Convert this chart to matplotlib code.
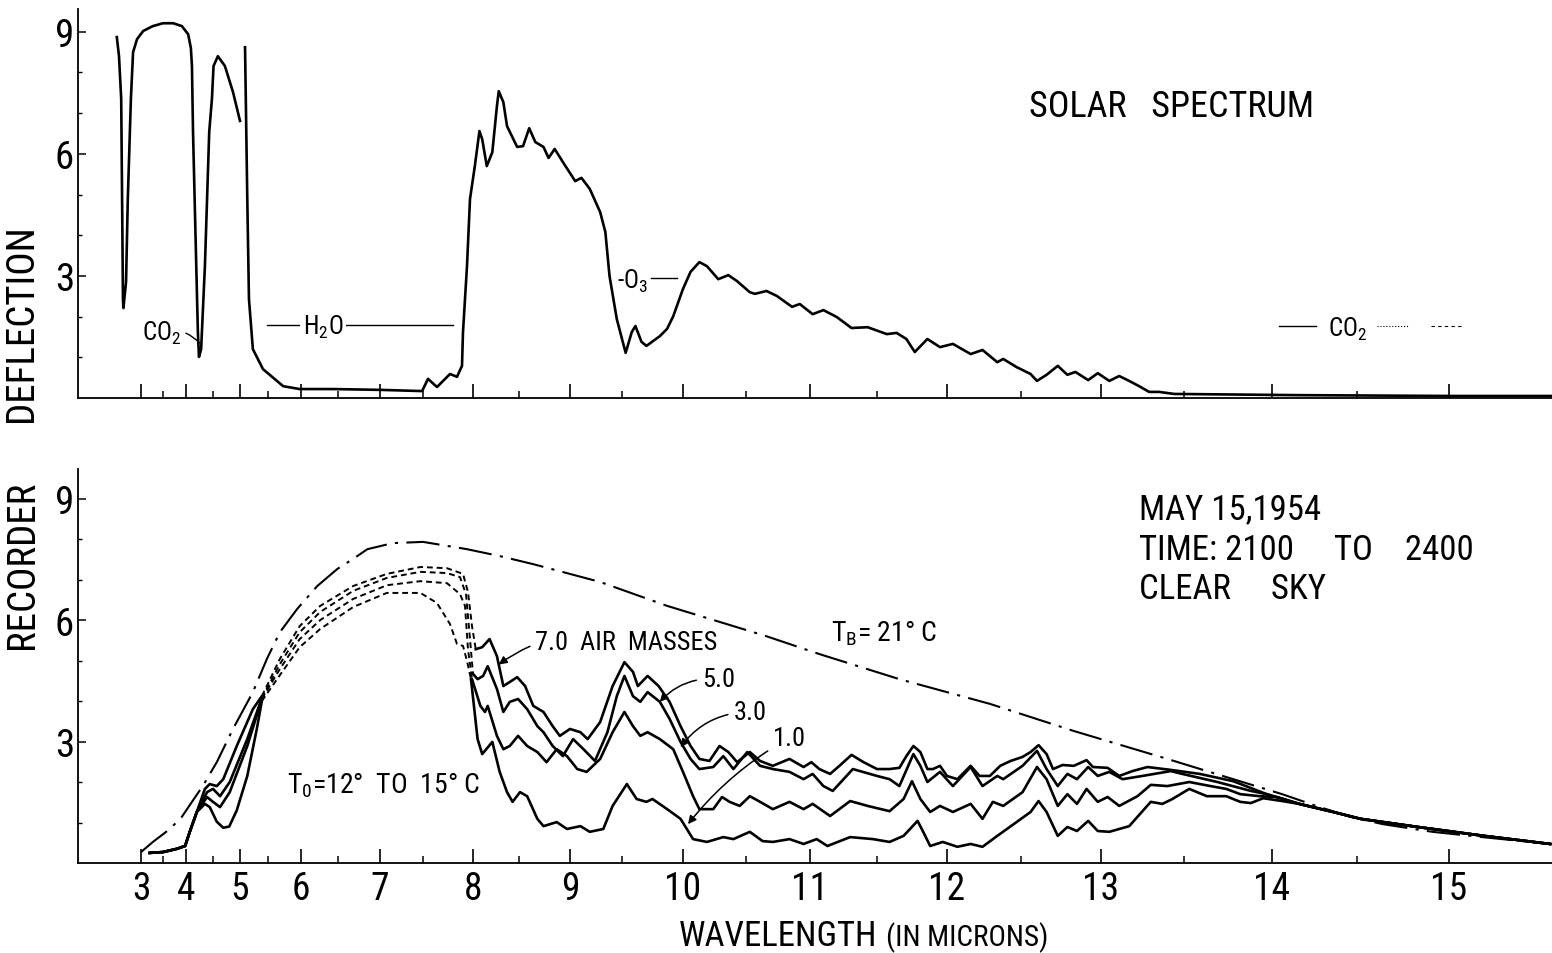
import numpy as np
import matplotlib as mpl
mpl.use('Agg')
from matplotlib import pyplot as plt
from matplotlib import font_manager


def pick_family(*names):
    for name in names:
        try:
            font_manager.findfont(font_manager.FontProperties(family=name),
                                  fallback_to_default=False)
            return name
        except ValueError:
            pass
    return 'DejaVu Sans'


LETTERING = pick_family('Roboto Condensed', 'Liberation Sans Narrow',
                        'DejaVu Sans Condensed', 'Roboto')
plt.rcParams['font.family'] = [LETTERING, 'DejaVu Sans']
plt.rcParams['mathtext.fontset'] = 'custom'
plt.rcParams['mathtext.rm'] = LETTERING
plt.rcParams['mathtext.it'] = LETTERING

# wavelength marks and their place along the recorder chart (prism dispersion)
prism_um = [0.0, 3.0, 3.5, 4.0, 4.5, 5.0, 5.5, 6.0, 6.5, 7.0, 7.5, 8.0, 8.5, 9.0,
            9.5, 10.0, 10.5, 11.0, 11.5, 12.0, 12.5, 13.0, 13.5, 14.0, 14.5, 15.0, 20.0]
prism_pos = [9, 141, 163, 186, 213, 240, 268, 301, 338, 380, 423, 473, 519, 570,
             622, 683, 746, 810, 877, 947, 1021, 1101, 1184, 1272, 1357, 1449, 2369]

# solar spectrum (micron, deflection), two traces
solar_a = np.array([
    (2.45, 8.87), (2.50, 8.40), (2.55, 7.35), (2.59, 2.43), (2.60, 2.21), (2.66, 2.85),
    (2.70, 4.89), (2.77, 7.35), (2.82, 8.50), (2.91, 8.82), (3.05, 9.02), (3.27, 9.14),
    (3.50, 9.21), (3.72, 9.21), (3.91, 9.14), (4.04, 8.94), (4.09, 8.60), (4.11, 8.16),
    (4.13, 6.54), (4.19, 3.24), (4.22, 1.62), (4.24, 1.01), (4.28, 1.20), (4.35, 3.24),
    (4.43, 6.54), (4.48, 7.35), (4.51, 8.16), (4.59, 8.40), (4.72, 8.16), (4.87, 7.52),
    (5.00, 6.81)])
solar_b = np.array([
    (5.09, 8.62), (5.13, 4.89), (5.16, 2.43), (5.23, 1.20), (5.41, 0.71), (5.73, 0.29),
    (5.98, 0.22), (6.43, 0.22), (7.00, 0.20), (7.49, 0.17), (7.55, 0.47), (7.64, 0.27),
    (7.77, 0.59), (7.84, 0.52), (7.89, 0.79), (7.90, 1.62), (7.94, 3.24), (7.97, 4.89),
    (8.02, 5.70), (8.07, 6.56), (8.10, 6.36), (8.15, 5.70), (8.21, 6.04), (8.26, 7.17),
    (8.28, 7.54), (8.33, 7.27), (8.37, 6.68), (8.48, 6.17), (8.54, 6.19), (8.60, 6.63),
    (8.66, 6.29), (8.74, 6.17), (8.79, 5.90), (8.85, 6.12), (8.93, 5.80), (9.05, 5.33),
    (9.11, 5.41), (9.19, 5.14), (9.29, 4.57), (9.34, 4.08), (9.38, 3.00), (9.45, 1.94),
    (9.53, 1.11), (9.58, 1.62), (9.61, 1.77), (9.66, 1.38), (9.70, 1.28), (9.81, 1.52),
    (9.87, 1.70), (9.92, 2.01), (10.00, 2.68), (10.06, 3.10), (10.13, 3.34), (10.19, 3.24),
    (10.28, 2.92), (10.36, 3.02), (10.43, 2.87), (10.53, 2.60), (10.57, 2.56), (10.66, 2.63),
    (10.74, 2.51), (10.86, 2.24), (10.92, 2.31), (11.02, 2.06), (11.10, 2.16), (11.20, 1.99),
    (11.31, 1.72), (11.43, 1.74), (11.57, 1.57), (11.64, 1.60), (11.71, 1.45), (11.77, 1.13),
    (11.86, 1.45), (11.95, 1.25), (12.04, 1.33), (12.16, 1.08), (12.24, 1.18), (12.34, 0.88),
    (12.38, 0.96), (12.47, 0.76), (12.56, 0.59), (12.60, 0.42), (12.66, 0.57), (12.73, 0.79),
    (12.79, 0.57), (12.84, 0.64), (12.92, 0.44), (12.98, 0.61), (13.05, 0.42), (13.11, 0.54),
    (13.17, 0.42), (13.23, 0.29), (13.29, 0.15), (13.35, 0.15), (13.44, 0.10), (14.16, 0.07),
    (15.01, 0.05), (15.56, 0.05)])

# blackbody reference, T_B = 21 C
blackbody = np.array([
    (3.00, 0.27), (3.27, 0.52), (3.65, 0.84), (3.91, 1.14), (4.11, 1.51), (4.31, 1.90),
    (4.57, 2.49), (4.87, 3.31), (5.23, 4.22), (5.48, 5.04), (5.68, 5.70), (5.94, 6.27),
    (6.22, 6.84), (6.49, 7.26), (6.68, 7.51), (6.85, 7.75), (7.15, 7.90), (7.50, 7.93),
    (7.94, 7.75), (8.29, 7.58), (8.64, 7.38), (9.29, 6.94), (9.87, 6.35), (10.40, 5.85),
    (10.66, 5.60), (11.07, 5.16), (11.66, 4.54), (12.29, 3.93), (12.83, 3.26), (13.40, 2.57),
    (13.78, 2.07), (14.06, 1.70), (14.26, 1.41), (14.46, 1.14), (14.64, 0.96), (14.91, 0.77),
    (15.18, 0.64), (15.55, 0.47)])

# sky spectra for 7.0, 5.0, 3.0, 1.0 air masses
rise_common = np.array([(3.20, 0.25), (3.50, 0.27), (3.80, 0.35), (3.98, 0.42),
                        (4.07, 0.77), (4.20, 1.26)])
tail_common = np.array([(14.16, 1.46), (14.36, 1.26), (14.52, 1.09), (14.83, 0.89),
                        (15.19, 0.67), (15.55, 0.47)])

am70_lo = np.array([(4.35, 1.83), (4.44, 1.95), (4.57, 1.90), (4.69, 2.07), (4.94, 2.89),
                    (5.23, 3.80), (5.39, 4.12)])
am50_lo = np.array([(4.39, 1.75), (4.50, 1.83), (4.63, 1.65), (4.81, 2.00), (5.13, 3.06),
                    (5.39, 4.07)])
am30_lo = np.array([(4.39, 1.63), (4.48, 1.53), (4.63, 1.38), (4.81, 1.75), (5.13, 2.89),
                    (5.39, 4.05)])
am10_lo = np.array([(4.35, 1.46), (4.44, 1.38), (4.57, 1.02), (4.69, 0.87), (4.80, 0.90),
                    (4.94, 1.30), (5.13, 2.15), (5.30, 3.31), (5.39, 4.00)])

am70_dash = np.array([(5.39, 4.12), (5.68, 5.04), (5.98, 5.85), (6.26, 6.35), (6.68, 6.84),
                      (7.08, 7.14), (7.47, 7.31), (7.74, 7.28), (7.90, 7.14), (7.95, 6.69),
                      (7.99, 5.85), (8.03, 5.28)])
am50_dash = np.array([(5.39, 4.07), (5.68, 4.91), (5.98, 5.70), (6.26, 6.20), (6.68, 6.72),
                      (7.08, 7.04), (7.47, 7.19), (7.74, 7.16), (7.87, 7.06), (7.93, 6.64),
                      (7.97, 5.53), (8.00, 4.67)])
am30_dash = np.array([(5.39, 4.05), (5.68, 4.79), (5.98, 5.53), (6.26, 6.00), (6.68, 6.52),
                      (7.08, 6.86), (7.47, 6.96), (7.74, 6.91), (7.87, 6.64), (7.92, 6.35),
                      (7.95, 5.28), (7.99, 4.54)])
am10_dash = np.array([(5.39, 4.00), (5.68, 4.64), (5.98, 5.33), (6.26, 5.78), (6.68, 6.32),
                      (7.08, 6.67), (7.47, 6.67), (7.64, 6.42), (7.77, 5.90), (7.84, 5.41),
                      (7.90, 5.36), (7.94, 4.99), (7.98, 4.54)])

am70_hi = np.array([
    (8.03, 5.28), (8.10, 5.33), (8.18, 5.53), (8.26, 5.11), (8.33, 4.37), (8.40, 4.47),
    (8.48, 4.59), (8.56, 4.37), (8.64, 3.88), (8.74, 3.73), (8.83, 3.38), (8.90, 3.14),
    (9.00, 3.31), (9.10, 3.23), (9.17, 3.06), (9.29, 3.48), (9.41, 4.37), (9.52, 4.96),
    (9.59, 4.72), (9.63, 4.37), (9.71, 4.62), (9.80, 4.37), (9.89, 3.98), (9.98, 3.38),
    (10.06, 2.89), (10.13, 2.57), (10.21, 2.52), (10.29, 2.89), (10.36, 2.74), (10.43, 2.49),
    (10.53, 2.74), (10.61, 2.52), (10.71, 2.40), (10.84, 2.57), (10.95, 2.37), (11.01, 2.49),
    (11.07, 2.32), (11.15, 2.20), (11.22, 2.40), (11.31, 2.67), (11.40, 2.49), (11.50, 2.32),
    (11.59, 2.32), (11.66, 2.35), (11.71, 2.64), (11.76, 2.89), (11.81, 2.74), (11.86, 2.32),
    (11.90, 2.32), (11.95, 2.40), (12.00, 2.15), (12.07, 2.07), (12.16, 2.40), (12.22, 2.15),
    (12.29, 2.15), (12.36, 2.40), (12.43, 2.52), (12.51, 2.62), (12.56, 2.74), (12.61, 2.91),
    (12.66, 2.69), (12.70, 2.32), (12.76, 2.42), (12.83, 2.40), (12.91, 2.54), (12.95, 2.37),
    (13.04, 2.35), (13.11, 2.15), (13.19, 2.27), (13.28, 2.37), (13.42, 2.30), (13.59, 2.20),
    (13.78, 2.02), (13.97, 1.70)])
am50_hi = np.array([
    (8.00, 4.67), (8.05, 4.54), (8.11, 4.62), (8.16, 4.86), (8.26, 4.30), (8.33, 3.73),
    (8.40, 3.98), (8.49, 4.05), (8.58, 3.80), (8.68, 3.38), (8.74, 3.23), (8.83, 2.89),
    (8.93, 2.64), (9.03, 3.06), (9.13, 2.81), (9.24, 2.52), (9.36, 3.23), (9.45, 4.12),
    (9.52, 4.62), (9.59, 4.12), (9.65, 3.98), (9.71, 4.22), (9.81, 3.98), (9.89, 3.56),
    (9.98, 2.99), (10.06, 2.57), (10.13, 2.32), (10.24, 2.37), (10.32, 2.64), (10.40, 2.32),
    (10.51, 2.74), (10.61, 2.40), (10.71, 2.32), (10.84, 2.25), (10.95, 2.07), (11.02, 2.20),
    (11.10, 1.90), (11.17, 1.78), (11.32, 2.32), (11.50, 2.15), (11.59, 2.07), (11.66, 1.90),
    (11.76, 2.69), (11.81, 2.40), (11.86, 2.00), (11.95, 2.25), (12.04, 1.90), (12.16, 2.37),
    (12.24, 1.90), (12.34, 2.15), (12.38, 2.07), (12.51, 2.40), (12.60, 2.77), (12.66, 2.32),
    (12.73, 1.90), (12.79, 2.20), (12.85, 2.07), (12.92, 2.37), (12.98, 2.15), (13.05, 2.25),
    (13.13, 2.07), (13.25, 2.15), (13.42, 2.27), (13.49, 2.20), (13.69, 2.00), (13.88, 1.78),
    (13.97, 1.70)])
am30_hi = np.array([
    (7.99, 4.54), (8.08, 3.88), (8.13, 3.73), (8.16, 3.88), (8.26, 3.14), (8.33, 2.81),
    (8.40, 2.89), (8.49, 3.14), (8.58, 2.89), (8.68, 2.74), (8.77, 2.49), (8.87, 2.81),
    (8.97, 2.64), (9.07, 2.32), (9.16, 2.25), (9.29, 2.57), (9.41, 3.23), (9.52, 3.73),
    (9.59, 3.38), (9.65, 3.14), (9.71, 3.23), (9.81, 3.06), (9.92, 2.81), (10.00, 2.25),
    (10.08, 1.65), (10.13, 1.33), (10.24, 1.33), (10.31, 1.63), (10.37, 1.51), (10.45, 1.41),
    (10.53, 1.65), (10.61, 1.51), (10.71, 1.33), (10.84, 1.51), (10.95, 1.33), (11.02, 1.46),
    (11.15, 1.16), (11.30, 1.53), (11.43, 1.41), (11.59, 1.28), (11.69, 1.58), (11.75, 2.02),
    (11.81, 1.58), (11.88, 1.26), (11.95, 1.41), (12.04, 1.26), (12.16, 1.46), (12.24, 1.09),
    (12.31, 1.51), (12.38, 1.41), (12.51, 1.75), (12.60, 2.37), (12.66, 2.07), (12.73, 1.41),
    (12.79, 1.70), (12.85, 1.46), (12.91, 1.83), (12.98, 1.51), (13.04, 1.63), (13.11, 1.41),
    (13.22, 1.65), (13.30, 1.93), (13.40, 1.90), (13.53, 2.00), (13.65, 1.90), (13.74, 1.83),
    (13.82, 1.70), (13.93, 1.65), (14.03, 1.63)])
am10_hi = np.array([
    (7.98, 4.54), (8.05, 3.06), (8.10, 2.69), (8.21, 2.99), (8.29, 2.25), (8.37, 1.75),
    (8.43, 1.51), (8.51, 1.75), (8.58, 1.65), (8.68, 1.09), (8.74, 0.91), (8.87, 1.01),
    (8.97, 0.84), (9.10, 0.91), (9.19, 0.77), (9.32, 0.84), (9.41, 1.41), (9.54, 1.95),
    (9.62, 1.58), (9.70, 1.51), (9.75, 1.58), (9.87, 1.33), (9.98, 1.09), (10.08, 0.59),
    (10.19, 0.52), (10.32, 0.64), (10.40, 0.59), (10.53, 0.77), (10.63, 0.54), (10.71, 0.52),
    (10.84, 0.59), (10.95, 0.47), (11.05, 0.59), (11.13, 0.42), (11.30, 0.64), (11.47, 0.59),
    (11.59, 0.52), (11.69, 0.67), (11.79, 1.04), (11.83, 0.77), (11.88, 0.42), (11.97, 0.52),
    (12.07, 0.40), (12.16, 0.47), (12.24, 0.40), (12.34, 0.67), (12.47, 1.01), (12.56, 1.26),
    (12.61, 1.53), (12.66, 1.26), (12.73, 0.67), (12.79, 0.89), (12.85, 0.79), (12.92, 1.04),
    (12.98, 0.79), (13.05, 0.77), (13.17, 0.91), (13.30, 1.51), (13.37, 1.46), (13.43, 1.58),
    (13.53, 1.83), (13.63, 1.65), (13.74, 1.65), (13.82, 1.51), (13.88, 1.48), (13.95, 1.60),
    (14.06, 1.53)])

major_um = np.arange(3, 16)
minor_um = np.arange(3.5, 15, 1.0)


def prism_fwd(x):
    return np.interp(x, prism_um, prism_pos)


def prism_inv(p):
    return np.interp(p, prism_pos, prism_um)


def setup_axis(ax, ytop):
    ax.set_xscale('function', functions=(prism_fwd, prism_inv))
    ax.set_xlim(1.568, 15.56)
    ax.set_ylim(0, ytop)
    for side in ('top', 'right'):
        ax.spines[side].set_visible(False)
    for side in ('left', 'bottom'):
        ax.spines[side].set_linewidth(1.3)
    ax.set_xticks(major_um)
    ax.set_xticks(minor_um, minor=True)
    ax.set_yticks([3, 6, 9])
    ax.set_yticks([1, 2, 4, 5, 7, 8], minor=True)
    ax.tick_params(axis='x', which='major', direction='in', length=10, width=1.2,
                   labelsize=27, pad=5)
    ax.tick_params(axis='x', which='minor', direction='in', length=5, width=1.1)
    ax.tick_params(axis='y', which='major', direction='in', length=6, width=1.1,
                   labelsize=28, pad=3)
    ax.tick_params(axis='y', which='minor', direction='in', length=3, width=1)
    ax.set_yticklabels(['3', '6', '9'])


fig = plt.figure(figsize=(15.52, 9.54), dpi=100)
W, H = 1552.0, 954.0
ax1 = fig.add_axes([78 / W, 555 / H, 1474 / W, 389 / H])
ax2 = fig.add_axes([78 / W, 90 / H, 1474 / W, 394 / H])
setup_axis(ax1, 9.56)
setup_axis(ax2, 9.73)
ax1.tick_params(labelbottom=False)
ax2.set_xticklabels([str(v) for v in major_um])

# --- upper panel: solar spectrum
LW = 1.9
for trace in (solar_a, solar_b):
    ax1.plot(trace[:, 0], trace[:, 1], color='k', lw=LW, solid_joinstyle='round')

ax1.text(12.55, 7.17, 'SOLAR   SPECTRUM', fontsize=26, ha='left', va='center')
ax1.annotate('CO$_2$', xy=(4.25, 1.35), xytext=(3.48, 1.62), fontsize=18,
             ha='center', va='center',
             arrowprops=dict(arrowstyle='-', lw=1, shrinkA=1, shrinkB=0,
                             connectionstyle='arc3,rad=-0.3'))
ax1.plot([5.48, 7.80], [1.79, 1.79], color='k', lw=1)
ax1.text(6.30, 1.75, 'H$_2$O', fontsize=18, ha='center', va='center',
         bbox=dict(fc='white', ec='none', pad=2))
ax1.text(9.45, 2.88, '-O$_3$', fontsize=18, ha='left', va='center')
ax1.plot([9.74, 9.95], [2.95, 2.95], color='k', lw=1)
ax1.plot([14.04, 14.26], [1.77, 1.77], color='k', lw=1)
ax1.text(14.33, 1.70, 'CO$_2$', fontsize=18, ha='left', va='center')
ax1.plot([14.61, 14.78], [1.77, 1.77], color='k', lw=0.8, ls=':')
ax1.plot([14.90, 15.07], [1.77, 1.77], color='k', lw=0.8, ls=(0, (3, 3)))

# --- lower panel: sky emission
ax2.plot(blackbody[:, 0], blackbody[:, 1], color='k', lw=1.5,
         ls=(0, (16, 4, 1.5, 4)))

for lo, dash, hi in ((am70_lo, am70_dash, am70_hi),
                     (am50_lo, am50_dash, am50_hi),
                     (am30_lo, am30_dash, am30_hi),
                     (am10_lo, am10_dash, am10_hi)):
    lo = np.vstack([rise_common, lo])
    hi = np.vstack([hi, tail_common])
    ax2.plot(lo[:, 0], lo[:, 1], color='k', lw=LW, solid_joinstyle='round')
    ax2.plot(dash[:, 0], dash[:, 1], color='k', lw=1.4, ls=(0, (3, 2)))
    ax2.plot(hi[:, 0], hi[:, 1], color='k', lw=LW, solid_joinstyle='round')

ax2.text(13.23, 8.74, 'MAY 15,1954', fontsize=25, ha='left', va='center')
ax2.text(13.23, 7.75, 'TIME: 2100     TO    2400', fontsize=25, ha='left', va='center')
ax2.text(13.23, 6.77, 'CLEAR     SKY', fontsize=25, ha='left', va='center')
ax2.text(11.16, 5.70, 'T$_{B}$= 21° C', fontsize=20, ha='left', va='center')
ax2.text(5.79, 1.95, 'T$_{0}$=12°  TO  15° C', fontsize=20, ha='left', va='center')

arrow = dict(arrowstyle='-|>', lw=1.1, color='k', mutation_scale=12,
             shrinkA=2, shrinkB=0, connectionstyle='arc3,rad=0.25')
ax2.annotate('7.0  AIR  MASSES', xy=(8.28, 4.9), xytext=(8.66, 5.46), fontsize=19,
             ha='left', va='center', arrowprops=arrow)
ax2.annotate('5.0', xy=(9.81, 3.98), xytext=(10.15, 4.54), fontsize=19,
             ha='left', va='center', arrowprops=arrow)
ax2.annotate('3.0', xy=(9.98, 2.86), xytext=(10.40, 3.73), fontsize=19,
             ha='left', va='center', arrowprops=arrow)
ax2.annotate('1.0', xy=(10.04, 0.96), xytext=(10.71, 3.09), fontsize=19,
             ha='left', va='center', arrowprops=dict(arrow, connectionstyle='arc3,rad=0.1'))

fig.text(22 / W, 1 - 323 / H, 'DEFLECTION', rotation=90, fontsize=28,
         ha='center', va='center')
fig.text(22 / W, 1 - 565 / H, 'RECORDER', rotation=90, fontsize=28,
         ha='center', va='center')
fig.text(679 / W, 1 - 946 / H, 'WAVELENGTH', fontsize=25, ha='left', va='baseline')
fig.text(886 / W, 1 - 946 / H, '(IN MICRONS)', fontsize=21, ha='left', va='baseline')

fig.savefig('out.png', dpi=100)
